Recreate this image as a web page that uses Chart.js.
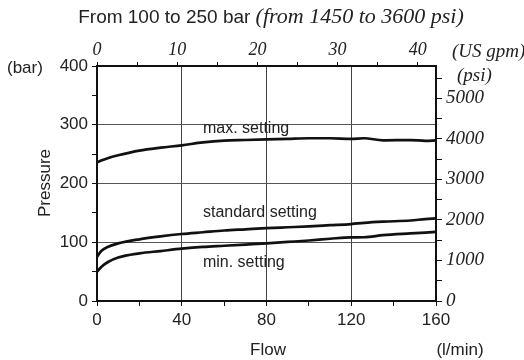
<!DOCTYPE html>
<html>
<head>
<meta charset="utf-8">
<script src="https://cdn.jsdelivr.net/npm/chart.js@4/dist/chart.umd.min.js"></script>
<style>
  html, body { margin: 0; padding: 0; background: #fff; }
  canvas { display: block; }
</style>
</head>
<body>
<canvas id="grafico" width="524" height="360"></canvas>
<script>
// Débit (l/min) et pression (bar)
const debit       = [0, 2, 5, 10, 20, 30, 40, 50, 60, 70, 80, 90, 100, 110, 120, 126, 135, 148, 155, 160]
const reglageMax  = [236, 239, 243, 248, 256, 261, 265, 270, 273, 274, 275, 276, 277, 277, 276, 277, 273.5, 274, 272.5, 273.5]
const reglageStd  = [75, 85, 92, 98, 105, 110, 114, 117, 120, 122, 124, 125.5, 127, 129, 131, 133, 135, 137, 139.5, 140.5]
const reglageMin  = [50, 58, 66, 74, 81, 85, 89, 92, 94, 96, 98, 100.5, 103, 106, 108.4, 108.5, 112, 115, 116.5, 117.5]

// graduations : positions des traits et valeurs affichées
const traitsDebit = [0, 20, 40, 60, 80, 100, 120, 140, 160]
const ticksDebit  = [0, 40, 80, 120, 160]
const traitsBar   = [0, 50, 100, 150, 200, 250, 300, 350, 400]
const ticksBar    = [0, 100, 200, 300, 400]
const traitsGpm   = [0, 5, 10, 15, 20, 25, 30, 35, 40]
const ticksGpm    = [0, 10, 20, 30, 40]
const traitsPsi   = [0, 500, 1000, 1500, 2000, 2500, 3000, 3500, 4000, 4500, 5000, 5500]
const ticksPsi    = [0, 1000, 2000, 3000, 4000, 5000]
const grilleDebit = [40, 80, 120]
const grilleBar   = [100, 200, 300]

const etiquettes = [
  { texte: 'max. setting',     x: 50, y: 294 },
  { texte: 'standard setting', x: 50, y: 151 },
  { texte: 'min. setting',     x: 50, y: 65 }
]

const LPM_PAR_GPM = 3.785
const PSI_PAR_BAR = 14.5

const SANS  = '"Liberation Sans", Arial, sans-serif'
const SERIF = '"Liberation Serif", "Times New Roman", serif'
const NOIR = '#111'

function serie(valeurs) {
  return debit.map((x, i) => ({ x, y: valeurs[i] }))
}

function traits(liste) {
  return s => { s.ticks = liste.map(v => ({ value: v })) }
}

function ligne(valeurs) {
  return {
    data: serie(valeurs),
    borderColor: NOIR,
    borderWidth: 2.7,
    pointRadius: 0,
    cubicInterpolationMode: 'monotone',
    fill: false
  }
}

const textes = {
  id: 'textes',
  afterDraw(chart) {
    const { ctx, scales: { x, y } } = chart
    ctx.save()
    ctx.fillStyle = '#222'
    ctx.textBaseline = 'alphabetic'

    // Titre
    const t1 = 'From 100 to 250 bar '
    const t2 = '(from 1450 to 3600 psi)'
    ctx.font = '19px ' + SANS
    const l1 = ctx.measureText(t1).width
    ctx.font = 'italic 22px ' + SERIF
    const l2 = ctx.measureText(t2).width
    const x0 = 271 - (l1 + l2) / 2
    ctx.textAlign = 'left'
    ctx.font = '19px ' + SANS
    ctx.fillText(t1, x0, 23)
    ctx.font = 'italic 22px ' + SERIF
    ctx.fillText(t2, x0 + l1, 23)

    // Unités
    ctx.font = 'italic 19px ' + SERIF
    ctx.fillText('(US gpm)', 452, 57)
    ctx.fillText('(psi)', 457, 81)

    ctx.font = '17px ' + SANS
    ctx.textBaseline = 'middle'
    ctx.fillText('(bar)', 7, 68)
    ctx.textAlign = 'center'
    ctx.fillText('Flow', 268, 350)
    ctx.fillText('(l/min)', 460, 350)

    ctx.save()
    ctx.translate(45, 183)
    ctx.rotate(-Math.PI / 2)
    ctx.fillText('Pressure', 0, 0)
    ctx.restore()

    // Étiquettes des courbes
    ctx.font = '16px ' + SANS
    ctx.textAlign = 'left'
    etiquettes.forEach(e => {
      ctx.fillText(e.texte, x.getPixelForValue(e.x), y.getPixelForValue(e.y))
    })
    ctx.restore()
  }
}

new Chart(document.getElementById('grafico'), {
  type: 'line',
  data: {
    datasets: [ligne(reglageMax), ligne(reglageStd), ligne(reglageMin)]
  },
  options: {
    responsive: false,
    devicePixelRatio: 1,
    animation: false,
    layout: { padding: 0 },
    plugins: { legend: { display: false }, title: { display: false }, tooltip: { enabled: false } },
    scales: {
      x: {
        type: 'linear', position: 'bottom', min: 0, max: 160,
        afterBuildTicks: traits(traitsDebit),
        afterFit: s => { s.height = 59 },
        ticks: {
          maxRotation: 0, autoSkip: false, padding: 4, color: '#222',
          font: { family: SANS, size: 17 },
          callback: v => ticksDebit.includes(v) ? v : ''
        },
        grid: {
          color: c => (c.tick && grilleDebit.includes(c.tick.value)) ? '#444' : 'rgba(0,0,0,0)',
          tickColor: NOIR, tickLength: 5, lineWidth: 1
        },
        border: { display: true, color: NOIR, width: 2 }
      },
      x2: {
        type: 'linear', position: 'top', min: 0, max: 160 / LPM_PAR_GPM,
        afterBuildTicks: traits(traitsGpm),
        afterFit: s => { s.height = 66 },
        ticks: {
          maxRotation: 0, autoSkip: false, padding: 1, color: '#222',
          font: { family: SERIF, size: 18, style: 'italic' },
          callback: v => ticksGpm.includes(v) ? v : ''
        },
        grid: { drawOnChartArea: false, tickColor: NOIR, tickLength: 4 },
        border: { display: true, color: NOIR, width: 2 }
      },
      y: {
        type: 'linear', position: 'left', min: 0, max: 400,
        afterBuildTicks: traits(traitsBar),
        afterFit: s => { s.width = 97 },
        ticks: {
          autoSkip: false, padding: 4, color: '#222',
          font: { family: SANS, size: 17 },
          callback: v => ticksBar.includes(v) ? v : ''
        },
        grid: {
          color: c => (c.tick && grilleBar.includes(c.tick.value)) ? '#555' : 'rgba(0,0,0,0)',
          tickColor: NOIR, tickLength: 5, lineWidth: 1
        },
        border: { display: true, color: NOIR, width: 2 }
      },
      y2: {
        type: 'linear', position: 'right', min: 0, max: 400 * PSI_PAR_BAR,
        afterBuildTicks: traits(traitsPsi),
        afterFit: s => { s.width = 88 },
        ticks: {
          autoSkip: false, padding: 4, color: '#222',
          font: { family: SERIF, size: 19, style: 'italic' },
          callback: v => ticksPsi.includes(v) ? v : ''
        },
        grid: { drawOnChartArea: false, tickColor: NOIR, tickLength: 6 },
        border: { display: true, color: NOIR, width: 2 }
      }
    }
  },
  plugins: [textes]
})
</script>
</body>
</html>
